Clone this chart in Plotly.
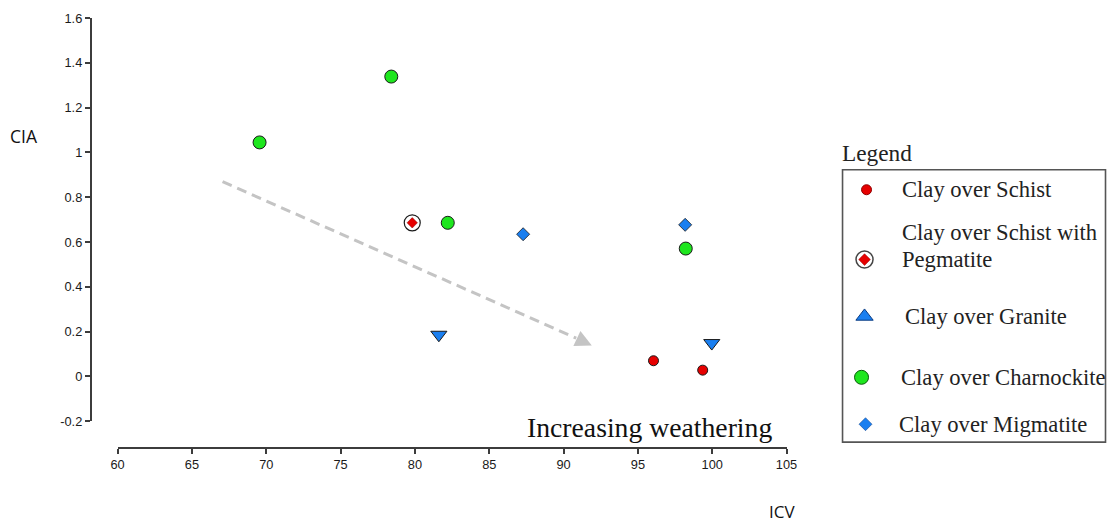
import plotly.graph_objects as go

# ---- data: ICV (x) vs CIA (y) by parent rock ----
schist_icv = [96.05, 99.36]
schist_cia = [0.070, 0.028]

pegmatite_icv = [79.82]
pegmatite_cia = [0.686]

granite_icv = [81.61, 99.97]
granite_cia = [0.186, 0.149]

charnockite_icv = [69.55, 78.41, 82.21, 98.22]
charnockite_cia = [1.045, 1.339, 0.686, 0.571]

migmatite_icv = [87.28, 98.18]
migmatite_cia = [0.635, 0.677]

x_ticks = [60, 65, 70, 75, 80, 85, 90, 95, 100, 105]
y_ticks = [-0.2, 0, 0.2, 0.4, 0.6, 0.8, 1.0, 1.2, 1.4, 1.6]
y_tick_text = ["-0.2", "0", "0.2", "0.4", "0.6", "0.8", "1", "1.2", "1.4", "1.6"]

# legend text lines (the pegmatite entry wraps onto two lines)
legend_lines = ["Clay over Schist", "Clay over Schist with", "Pegmatite",
                "Clay over Granite", "Clay over Charnockite", "Clay over Migmatite"]

# ---- page geometry ----
# layout positions below are given in screen pixels of the 1107x523 view;
# these constants convert them to figure pixels.
SX, SY = 0.984, 0.974
OX, OY = 7.5, 6.0
W = round(1107 / SX - OX)
H = round(523 / SY - OY)

RED = "#e60000"
GREEN = "#1ee61e"
BLUE = "#1a7ff0"
AXIS = "#3c3c3c"
OUTLINE = "#1a1a1a"


def px(t):
    """screen pixel x -> paper fraction"""
    return (t / SX - OX) / W


def py(t):
    """screen pixel y -> paper fraction"""
    return 1 - (t / SY - OY) / H


fig = go.Figure()

# data traces
fig.add_trace(go.Scatter(
    x=charnockite_icv, y=charnockite_cia, mode="markers", cliponaxis=False,
    marker=dict(symbol="circle", size=13, color=GREEN, line=dict(color=OUTLINE, width=1))))
fig.add_trace(go.Scatter(
    x=pegmatite_icv, y=pegmatite_cia, mode="markers", cliponaxis=False,
    marker=dict(symbol="circle", size=16, color="white", line=dict(color=OUTLINE, width=1.2))))
fig.add_trace(go.Scatter(
    x=pegmatite_icv, y=pegmatite_cia, mode="markers", cliponaxis=False,
    marker=dict(symbol="diamond", size=8, color=RED, line=dict(color="#800000", width=0.5))))
fig.add_trace(go.Scatter(
    x=migmatite_icv, y=migmatite_cia, mode="markers", cliponaxis=False,
    marker=dict(symbol="diamond", size=10, color=BLUE, line=dict(color=OUTLINE, width=0.8))))
fig.add_trace(go.Scatter(
    x=granite_icv, y=granite_cia, mode="markers", cliponaxis=False,
    marker=dict(symbol="triangle-down", size=14, color=BLUE, line=dict(color=OUTLINE, width=1))))
fig.add_trace(go.Scatter(
    x=schist_icv, y=schist_cia, mode="markers", cliponaxis=False,
    marker=dict(symbol="circle", size=10, color=RED, line=dict(color=OUTLINE, width=1))))

# legend symbols drawn on an overlay screen-pixel axis pair
leg_sym_x = [867, 865, 865, 862, 866]
leg_sym_y = [188, 258, 315, 376, 423]
leg_txt_x = [900, 900, 900, 903, 899, 897]
leg_txt_y = [188, 231, 258, 315, 376, 423]

fig.add_trace(go.Scatter(
    x=[leg_sym_x[0]], y=[leg_sym_y[0]], mode="markers", xaxis="x2", yaxis="y2",
    marker=dict(symbol="circle", size=10, color=RED, line=dict(color="#900000", width=1))))
fig.add_trace(go.Scatter(
    x=[leg_sym_x[1]], y=[leg_sym_y[1]], mode="markers", xaxis="x2", yaxis="y2",
    marker=dict(symbol="circle", size=17, color="white", line=dict(color="#444444", width=1.5))))
fig.add_trace(go.Scatter(
    x=[leg_sym_x[1]], y=[leg_sym_y[1]], mode="markers", xaxis="x2", yaxis="y2",
    marker=dict(symbol="diamond", size=9, color=RED, line=dict(color="#900000", width=0.5))))
fig.add_trace(go.Scatter(
    x=[leg_sym_x[2]], y=[leg_sym_y[2]], mode="markers", xaxis="x2", yaxis="y2",
    marker=dict(symbol="triangle-up", size=15, color=BLUE, line=dict(color="#0a3a80", width=1))))
fig.add_trace(go.Scatter(
    x=[leg_sym_x[3]], y=[leg_sym_y[3]], mode="markers", xaxis="x2", yaxis="y2",
    marker=dict(symbol="circle", size=14, color=GREEN, line=dict(color="#0a5a0a", width=1))))
fig.add_trace(go.Scatter(
    x=[leg_sym_x[4]], y=[leg_sym_y[4]], mode="markers", xaxis="x2", yaxis="y2",
    marker=dict(symbol="diamond", size=10, color=BLUE, line=dict(color="#0a3a80", width=0.5))))

annotations = []
for lbl, tx, ty in zip(legend_lines, leg_txt_x, leg_txt_y):
    annotations.append(dict(
        text=lbl, x=px(tx), y=py(ty), xref="paper", yref="paper",
        xanchor="left", yanchor="middle", align="left", showarrow=False,
        font=dict(family="Liberation Serif", size=22.6, color="#222222")))
annotations.append(dict(
    text="Legend", x=px(840), y=py(151), xref="paper", yref="paper",
    xanchor="left", yanchor="middle", showarrow=False,
    font=dict(family="Liberation Serif", size=23.3, color="#222222")))

# axis titles
annotations.append(dict(
    text="CIA", x=px(24), y=py(134), xref="paper", yref="paper",
    xanchor="center", yanchor="middle", showarrow=False,
    font=dict(family="Open Sans", size=17.5, color="#111111")))
annotations.append(dict(
    text="ICV", x=px(782), y=py(511), xref="paper", yref="paper",
    xanchor="center", yanchor="middle", showarrow=False,
    font=dict(family="Open Sans", size=17, color="#111111")))

# trend note
annotations.append(dict(
    text="Increasing weathering", x=px(650), y=py(426), xref="paper", yref="paper",
    xanchor="center", yanchor="middle", showarrow=False,
    font=dict(family="Liberation Serif", size=27.7, color="#111111")))

# dashed trend arrow (data coordinates)
arrow_start = (67.06, 0.870)
arrow_tip = (91.9, 0.138)
stem_end = (90.85, 0.171)
annotations.append(dict(
    x=arrow_tip[0], y=arrow_tip[1], xref="x", yref="y",
    ax=stem_end[0], ay=stem_end[1], axref="x", ayref="y",
    text="", showarrow=True, arrowhead=2, arrowsize=1.1, arrowwidth=3,
    arrowcolor="#c4c4c4"))

shapes = [
    dict(type="line", xref="x", yref="y",
         x0=arrow_start[0], y0=arrow_start[1], x1=stem_end[0], y1=stem_end[1],
         line=dict(color="#c4c4c4", width=3, dash="10px,6px")),
    dict(type="rect", xref="paper", yref="paper",
         x0=px(843), y0=py(441), x1=px(1106), y1=py(168),
         line=dict(color="#555555", width=1.6), fillcolor="rgba(0,0,0,0)"),
]

fig.update_layout(
    width=W, height=H,
    margin=dict(l=0, r=0, t=0, b=0),
    paper_bgcolor="white", plot_bgcolor="rgba(0,0,0,0)",
    showlegend=False,
    annotations=annotations,
    shapes=shapes,
    xaxis=dict(
        domain=[px(118), px(787)], range=[60, 105], anchor="free", position=py(447),
        showline=True, linecolor=AXIS, linewidth=1.5,
        ticks="outside", ticklen=5, tickwidth=1.5, tickcolor=AXIS,
        tickvals=x_ticks, ticktext=[str(v) for v in x_ticks],
        tickfont=dict(family="Liberation Sans", size=12.8, color="#1a1a1a"),
        showgrid=False, zeroline=False, fixedrange=True),
    yaxis=dict(
        domain=[py(420), py(16)], range=[-0.2, 1.6], anchor="free", position=px(91),
        showline=True, linecolor=AXIS, linewidth=1.5,
        ticks="outside", ticklen=5, tickwidth=1.5, tickcolor=AXIS,
        tickvals=y_ticks, ticktext=y_tick_text,
        tickfont=dict(family="Liberation Sans", size=12.8, color="#1a1a1a"),
        showgrid=False, zeroline=False, fixedrange=True),
    xaxis2=dict(domain=[0, 1], range=[OX * SX, (W + OX) * SX], anchor="y2",
                visible=False, fixedrange=True),
    yaxis2=dict(domain=[0, 1], range=[(H + OY) * SY, OY * SY], anchor="x2",
                visible=False, fixedrange=True),
)

fig.write_html("out.html")
